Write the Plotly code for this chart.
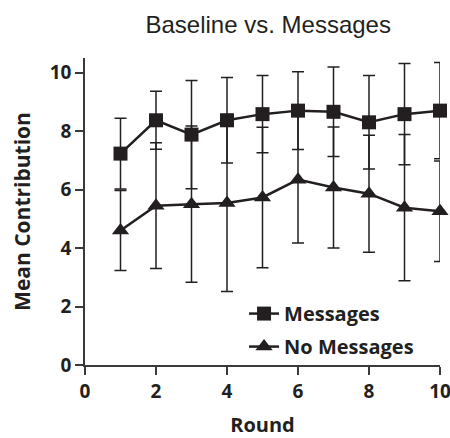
import plotly.graph_objects as go

rounds = [1, 2, 3, 4, 5, 6, 7, 8, 9, 10]
messages_mean = [7.23, 8.37, 7.88, 8.37, 8.58, 8.70, 8.66, 8.30, 8.58, 8.70]
messages_err = [1.21, 0.99, 1.85, 1.46, 1.32, 1.33, 1.53, 1.60, 1.73, 1.65]
nomsg_mean = [4.60, 5.45, 5.50, 5.54, 5.73, 6.34, 6.07, 5.86, 5.38, 5.26]
nomsg_err = [1.37, 2.15, 2.67, 3.03, 2.40, 2.17, 2.07, 2.00, 2.50, 1.72]

x_ticks = [0, 2, 4, 6, 8, 10]
y_ticks = [0, 2, 4, 6, 8, 10]

ink = "#231f20"
axis_col = "#3a3a3a"
bold_font = "Open Sans"

fig = go.Figure()
fig.add_trace(go.Scatter(
    x=rounds, y=messages_mean, name="Messages", mode="lines+markers",
    legendgroup="m", cliponaxis=False,
    line=dict(color=ink, width=2.5),
    marker=dict(symbol="square", size=14, color=ink),
    error_y=dict(type="data", array=messages_err, visible=True,
                 color=ink, thickness=1.5, width=6),
))
fig.add_trace(go.Scatter(
    x=rounds, y=nomsg_mean, name="No Messages", mode="lines+markers",
    legendgroup="n", cliponaxis=False,
    line=dict(color=ink, width=2.5),
    marker=dict(symbol="triangle-up", size=15, color=ink),
    error_y=dict(type="data", array=nomsg_err, visible=True,
                 color=ink, thickness=1.5, width=6),
))

fig.update_layout(
    width=450, height=438,
    margin=dict(l=85, r=10, t=58, b=73, autoexpand=False),
    paper_bgcolor="white", plot_bgcolor="white",
    title=dict(text="Baseline vs. Messages", x=0.596, xanchor="center",
               y=0.943, yanchor="middle",
               font=dict(family="Liberation Sans, Arial", size=24, color=ink)),
    showlegend=True,
    legend=dict(x=0.448, y=0.231, xanchor="left", yanchor="top",
                bgcolor="rgba(0,0,0,0)", traceorder="grouped", tracegroupgap=4,
                font=dict(family=bold_font, size=20, color=ink, weight="bold")),
    xaxis=dict(range=[0, 10], tickvals=x_ticks, showgrid=False, zeroline=False,
               showline=True, linecolor=axis_col, linewidth=1.5, automargin=False,
               ticks="outside", ticklen=8, tickwidth=1.5, tickcolor=axis_col,
               ticklabeloverflow="allow",
               tickfont=dict(family=bold_font, size=19, color=ink, weight="bold"),
               title=dict(text="Round", standoff=21,
                          font=dict(family=bold_font, size=20, color=ink, weight="bold"))),
    yaxis=dict(range=[0, 10.5], tickvals=y_ticks, showgrid=False, zeroline=False,
               showline=True, linecolor=axis_col, linewidth=1.5, automargin=False,
               ticks="outside", ticklen=8, tickwidth=1.5, tickcolor=axis_col,
               ticklabeloverflow="allow",
               tickfont=dict(family=bold_font, size=19, color=ink, weight="bold"),
               title=dict(text="Mean Contribution", standoff=13,
                          font=dict(family=bold_font, size=21, color=ink, weight="bold"))),
)

fig.write_html("out.html", config={"displayModeBar": False})

# remove the default page margin so the figure sits at the window origin
with open("out.html", "r", encoding="utf-8") as f:
    html = f.read()
html = html.replace("<head>", "<head><style>html,body{margin:0;padding:0;overflow:hidden;}</style>", 1)
with open("out.html", "w", encoding="utf-8") as f:
    f.write(html)
